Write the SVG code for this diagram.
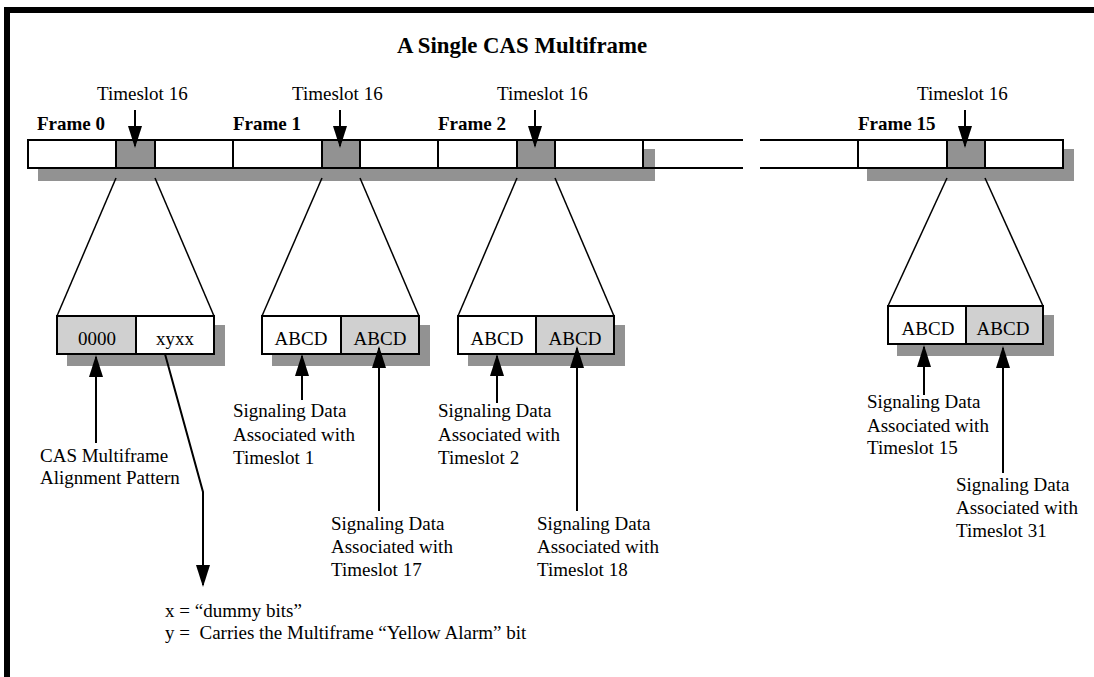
<svg xmlns="http://www.w3.org/2000/svg" width="1094" height="677" viewBox="0 0 1094 677">
  <style>
    text { font-family: "Liberation Serif", "Times New Roman", serif; font-size: 19px; fill: #000; }
    .title { font-size: 22.8px; font-weight: bold; }
    .frame-label { font-weight: bold; }
    .legend { white-space: pre; }
    .cell { fill: #fff; stroke: #000; stroke-width: 2; }
    .cell-light { fill: #d0d0d0; stroke: #000; stroke-width: 2; }
    .slot { fill: #929292; stroke: #000; stroke-width: 2; }
    .shadow { fill: #929292; stroke: none; }
    .rail { stroke: #000; stroke-width: 2; fill: none; }
    .fan { stroke: #000; stroke-width: 1.5; fill: none; }
    .pointer { stroke: #000; stroke-width: 2; fill: none; marker-end: url(#head); }
  </style>
  <defs>
    <marker id="head" markerUnits="userSpaceOnUse" markerWidth="22" markerHeight="14" refX="20" refY="7" orient="auto">
      <path d="M0,0 L22,7 L0,14 Z" fill="#000"/>
    </marker>
  </defs>

  <rect width="1094" height="677" fill="#fff"/>

  <!-- page frame: heavy rule along top and left edge -->
  <rect x="4" y="7" width="1090" height="6" fill="#000"/>
  <rect x="4" y="7" width="6" height="670" fill="#000"/>

  <text class="title" x="522" y="53" text-anchor="middle">A Single CAS Multiframe</text>

  <!-- multiframe bar -->
  <g id="multiframe-bar">
    <rect class="shadow" x="38" y="149" width="617" height="32"/>
    <rect class="shadow" x="867" y="149" width="207" height="32"/>
    <!-- open (elided) section between frame 2 and frame 15 -->
    <line class="rail" x1="643" y1="140" x2="743" y2="140"/>
    <line class="rail" x1="643" y1="168" x2="743" y2="168"/>
    <line class="rail" x1="760" y1="140" x2="858" y2="140"/>
    <line class="rail" x1="760" y1="168" x2="858" y2="168"/>
  </g>

  <g id="frame-0">
    <rect class="cell" x="28" y="140" width="205" height="28"/>
    <rect class="slot" x="116" y="140" width="39" height="28"/>
    <text class="frame-label" x="37" y="130">Frame 0</text>
    <text x="97" y="100">Timeslot 16</text>
  </g>
  <g id="frame-1">
    <rect class="cell" x="233" y="140" width="205" height="28"/>
    <rect class="slot" x="322" y="140" width="38" height="28"/>
    <text class="frame-label" x="233" y="130">Frame 1</text>
    <text x="292" y="100">Timeslot 16</text>
  </g>
  <g id="frame-2">
    <rect class="cell" x="438" y="140" width="205" height="28"/>
    <rect class="slot" x="517" y="140" width="38" height="28"/>
    <text class="frame-label" x="438" y="130">Frame 2</text>
    <text x="497" y="100">Timeslot 16</text>
  </g>
  <g id="frame-15">
    <rect class="cell" x="858" y="140" width="205" height="28"/>
    <rect class="slot" x="947" y="140" width="38" height="28"/>
    <text class="frame-label" x="858" y="130">Frame 15</text>
    <text x="917" y="100">Timeslot 16</text>
  </g>

  <!-- expanded timeslot 16 contents -->
  <g id="ts16-frame-0">
    <rect class="shadow" x="67" y="325" width="158" height="41"/>
    <rect class="cell-light" x="57" y="316" width="79" height="38"/>
    <rect class="cell" x="136" y="316" width="78" height="38"/>
    <text x="97" y="345" text-anchor="middle">0000</text>
    <text x="175" y="345" text-anchor="middle">xyxx</text>
  </g>
  <g id="ts16-frame-1">
    <rect class="shadow" x="272" y="325" width="158" height="41"/>
    <rect class="cell" x="262" y="316" width="79" height="38"/>
    <rect class="cell-light" x="341" y="316" width="78" height="38"/>
    <text x="301" y="345" text-anchor="middle">ABCD</text>
    <text x="380" y="345" text-anchor="middle">ABCD</text>
  </g>
  <g id="ts16-frame-2">
    <rect class="shadow" x="468" y="325" width="157" height="41"/>
    <rect class="cell" x="458" y="316" width="78" height="38"/>
    <rect class="cell-light" x="536" y="316" width="78" height="38"/>
    <text x="497" y="345" text-anchor="middle">ABCD</text>
    <text x="575" y="345" text-anchor="middle">ABCD</text>
  </g>
  <g id="ts16-frame-15">
    <rect class="shadow" x="897" y="315" width="157" height="41"/>
    <rect class="cell" x="888" y="306" width="78" height="38"/>
    <rect class="cell-light" x="966" y="306" width="77" height="38"/>
    <text x="928" y="335" text-anchor="middle">ABCD</text>
    <text x="1003" y="335" text-anchor="middle">ABCD</text>
  </g>

  <!-- annotations -->
  <g id="note-alignment">
    <text x="40" y="462">CAS Multiframe</text>
    <text x="40" y="484">Alignment Pattern</text>
  </g>
  <g id="note-ts1">
    <text x="233" y="417">Signaling Data</text>
    <text x="233" y="441">Associated with</text>
    <text x="233" y="464">Timeslot 1</text>
  </g>
  <g id="note-ts17">
    <text x="331" y="530">Signaling Data</text>
    <text x="331" y="553">Associated with</text>
    <text x="331" y="576">Timeslot 17</text>
  </g>
  <g id="note-ts2">
    <text x="438" y="417">Signaling Data</text>
    <text x="438" y="441">Associated with</text>
    <text x="438" y="464">Timeslot 2</text>
  </g>
  <g id="note-ts18">
    <text x="537" y="530">Signaling Data</text>
    <text x="537" y="553">Associated with</text>
    <text x="537" y="576">Timeslot 18</text>
  </g>
  <g id="note-ts15">
    <text x="867" y="408">Signaling Data</text>
    <text x="867" y="432">Associated with</text>
    <text x="867" y="454">Timeslot 15</text>
  </g>
  <g id="note-ts31">
    <text x="956" y="491">Signaling Data</text>
    <text x="956" y="514">Associated with</text>
    <text x="956" y="537">Timeslot 31</text>
  </g>
  <g id="legend">
    <text class="legend" x="165" y="617">x = “dummy bits”</text>
    <text class="legend" x="165" y="639">y =  Carries the Multiframe “Yellow Alarm” bit</text>
  </g>

  <!-- connectors -->
  <g id="connectors">
    <!-- fan-out from each timeslot 16 to its expanded bits -->
    <line class="fan" x1="116" y1="178" x2="57" y2="316"/>
    <line class="fan" x1="155" y1="178" x2="214" y2="316"/>
    <line class="fan" x1="322" y1="178" x2="262" y2="316"/>
    <line class="fan" x1="360" y1="178" x2="419" y2="316"/>
    <line class="fan" x1="517" y1="178" x2="458" y2="316"/>
    <line class="fan" x1="555" y1="178" x2="614" y2="316"/>
    <line class="fan" x1="947" y1="178" x2="888" y2="306"/>
    <line class="fan" x1="985" y1="178" x2="1043" y2="306"/>

    <!-- timeslot 16 pointers -->
    <line class="pointer" x1="135" y1="110" x2="135" y2="146"/>
    <line class="pointer" x1="340" y1="110" x2="340" y2="146"/>
    <line class="pointer" x1="535" y1="110" x2="535" y2="146"/>
    <line class="pointer" x1="965" y1="110" x2="965" y2="146"/>

    <!-- annotation pointers -->
    <line class="pointer" x1="96" y1="443" x2="96" y2="357"/>
    <polyline class="pointer" points="165,354 203,492 203,585"/>
    <line class="pointer" x1="302" y1="400" x2="302" y2="356"/>
    <line class="pointer" x1="379" y1="511" x2="379" y2="348"/>
    <line class="pointer" x1="497" y1="403" x2="497" y2="356"/>
    <line class="pointer" x1="577" y1="511" x2="577" y2="348"/>
    <line class="pointer" x1="924" y1="395" x2="924" y2="347"/>
    <line class="pointer" x1="1003" y1="473" x2="1003" y2="348"/>
  </g>
</svg>
